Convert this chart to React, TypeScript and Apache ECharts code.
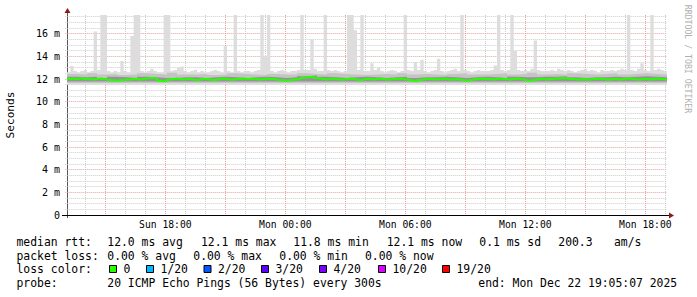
import React, { useEffect, useRef } from 'react';
import * as echarts from 'echarts';

// Time axis: minutes after Sun 13:00. Graph spans Sun 13:05 .. Mon 19:05.
const AXIS_START_MIN = 0;
const AXIS_END_MIN = 1805;
const FIRST_SAMPLE_MIN = 5;
const FINE_STEP_MIN = 10;
const COARSE_STEP_MIN = 30;
const Y_MAX = 17.65;

const xTickMinutes = [300, 660, 1020, 1380, 1740];
const xTickLabels = ['Sun 18:00', 'Mon 00:00', 'Mon 06:00', 'Mon 12:00', 'Mon 18:00'];
const yTickValues = [0, 2, 4, 6, 8, 10, 12, 14, 16];
const yTickLabels = ['0', '2 m', '4 m', '6 m', '8 m', '10 m', '12 m', '14 m', '16 m'];

// median rtt (ms), one value per 10 minutes
const medianRtt = [
  12.0, 12.05, 12.0, 12.05, 12.1, 12.0, 12.0, 11.95, 12.0, 12.05, 12.0, 11.95, 11.9, 11.9, 11.85, 11.9, 11.9, 11.95,
  11.95, 12.0, 12.0, 11.95, 12.0, 12.05, 12.1, 12.1, 12.05, 11.85, 11.8, 11.85, 11.95, 12.0, 12.05, 12.0, 11.95, 12.0,
  12.0, 11.95, 11.9, 11.95, 12.0, 12.0, 11.95, 11.9, 11.95, 12.0, 12.05, 12.0, 11.95, 11.95, 12.0, 12.0, 12.05, 12.0,
  12.0, 12.05, 12.0, 11.95, 12.0, 12.05, 12.0, 12.0, 11.95, 11.9, 11.9, 11.85, 11.9, 11.95, 11.95, 12.0, 12.1, 12.15,
  12.15, 12.2, 12.1, 12.05, 12.0, 11.95, 12.0, 12.05, 12.0, 11.95, 11.95, 12.0, 12.05, 12.0, 11.95, 11.9, 11.95, 12.0,
  12.0, 11.95, 12.0, 12.05, 12.0, 11.95, 11.95, 12.0, 12.0, 12.05, 12.0, 11.95, 11.9, 11.85, 11.8, 11.9, 11.95, 12.0,
  12.0, 12.0, 11.95, 12.0, 12.05, 12.0, 11.95, 11.95, 12.0, 11.95, 11.9, 11.85, 11.9, 11.95, 12.0, 12.0, 12.05, 12.0,
  12.0, 11.95, 12.0, 12.05, 12.0, 12.0, 11.95, 12.0, 12.05, 12.0, 11.95, 11.9, 11.85, 11.9, 11.95, 12.0, 12.0, 11.95,
  12.0, 12.0, 12.05, 12.05, 12.1, 12.05, 12.0, 12.0, 11.95, 11.95, 12.0, 11.95, 11.95, 12.0, 12.0, 12.05, 12.0, 11.95,
  11.95, 12.0, 12.0, 11.95, 12.0, 12.05, 12.05, 12.0, 11.95, 11.95, 12.0, 12.0, 11.95, 12.0, 12.05, 12.0, 12.0, 11.95,
];

// highest ping of each 10-minute step (light smoke top, ms)
const smokeHigh = [
  12.6, 13.15, 12.7, 12.6, 12.7, 12.8, 12.6, 12.7, 16.2, 12.8, 17.7, 17.7, 12.7, 12.6, 12.7, 12.6, 13.6, 12.7,
  12.6, 15.8, 17.7, 17.7, 12.7, 12.6, 12.7, 12.9, 12.7, 12.6, 12.6, 17.7, 17.7, 12.7, 12.8, 13.0, 13.1, 12.7,
  12.6, 12.7, 12.8, 12.6, 12.7, 12.6, 12.6, 12.7, 12.8, 12.7, 12.6, 14.9, 12.7, 12.6, 17.7, 12.7, 12.6, 12.7,
  12.7, 12.6, 12.7, 12.8, 17.7, 14.0, 17.7, 12.7, 12.6, 12.7, 12.8, 12.7, 12.6, 12.7, 12.7, 12.8, 17.7, 12.8,
  12.8, 15.5, 12.9, 12.7, 12.7, 17.7, 12.8, 12.7, 12.8, 12.7, 12.6, 12.7, 17.7, 17.7, 16.3, 12.8, 17.7, 12.7,
  12.7, 13.4, 12.8, 13.0, 12.7, 12.6, 12.7, 12.8, 12.7, 12.6, 12.7, 17.7, 12.8, 12.7, 13.5, 12.8, 13.7, 12.7,
  12.6, 12.7, 12.8, 13.8, 12.7, 12.6, 12.7, 12.8, 12.9, 12.7, 17.7, 12.8, 12.7, 12.6, 12.7, 12.8, 12.7, 12.7,
  12.7, 12.8, 13.2, 17.7, 12.8, 12.7, 12.8, 17.7, 14.5, 12.8, 12.7, 12.8, 12.7, 12.9, 15.4, 12.8, 12.7, 12.7,
  12.7, 12.8, 12.7, 12.9, 12.8, 12.7, 12.8, 12.7, 12.6, 12.7, 12.8, 12.9, 12.7, 12.8, 12.7, 12.6, 12.8, 12.7,
  12.7, 12.8, 12.7, 12.8, 12.9, 12.8, 17.7, 12.8, 12.7, 12.9, 13.4, 12.8, 12.7, 17.7, 12.8, 12.9, 12.8, 12.7,
];

// inner smoke tops, one value per 30 minutes (ms)
const smokeMid = [
  12.45, 12.4, 12.5, 12.4, 12.45, 12.35, 12.4, 12.5, 12.45, 12.4, 12.55, 12.4,
  12.4, 12.45, 12.35, 12.4, 12.5, 12.45, 12.4, 12.35, 12.45, 12.4, 12.4, 12.5,
  12.45, 12.4, 12.5, 12.45, 12.4, 12.35, 12.4, 12.45, 12.4, 12.5, 12.4, 12.45,
  12.4, 12.35, 12.45, 12.5, 12.4, 12.4, 12.45, 12.5, 12.4, 12.45, 12.55, 12.4,
  12.45, 12.4, 12.5, 12.45, 12.4, 12.45, 12.5, 12.4, 12.45, 12.5, 12.45, 12.4,
];
const smokeDark = [
  12.2, 12.15, 12.2, 12.1, 12.2, 12.15, 12.1, 12.2, 12.15, 12.1, 12.1, 12.15,
  12.15, 12.1, 12.15, 12.2, 12.15, 12.1, 12.15, 12.2, 12.15, 12.1, 12.15, 12.25,
  12.3, 12.2, 12.15, 12.1, 12.15, 12.2, 12.15, 12.1, 12.15, 12.2, 12.1, 12.15,
  12.15, 12.2, 12.15, 12.1, 12.15, 12.2, 12.15, 12.1, 12.2, 12.15, 12.15, 12.2,
  12.2, 12.25, 12.15, 12.1, 12.15, 12.15, 12.2, 12.15, 12.2, 12.25, 12.2, 12.15,
];
const SMOKE_LIGHT_BOTTOM = 11.5;
const SMOKE_MID_BOTTOM = 11.65;
const SMOKE_DARK_BOTTOM = 11.78;

const lossLabels = ['0', '1/20', '2/20', '3/20', '4/20', '10/20', '19/20'];
const lossColors = ['#26ff00', '#00b8ff', '#0059ff', '#5e00ff', '#7e00ff', '#dd00ff', '#ff0000'];
const lossBoxX = [109, 146, 203.5, 261, 319, 378, 442];

const statsRtt = [
  ['median rtt:', 16.5], ['12.0 ms avg', 107.3], ['12.1 ms max', 201], ['11.8 ms min', 293.3],
  ['12.1 ms now', 386.7], ['0.1 ms sd', 479.3], ['200.3', 558.3], ['am/s', 614],
];
const statsLoss = [
  ['packet loss:', 16.5], ['0.00 % avg', 107.3], ['0.00 % max', 193.3], ['0.00 % min', 279.3], ['0.00 % now', 365],
];
const probeLine = [
  ['probe:', 16.5], ['20 ICMP Echo Pings (56 Bytes) every 300s', 107.3], ['end: Mon Dec 22 19:05:07 2025', 478.3],
];

const MONO = '"DejaVu Sans Mono", monospace';

function stepData(vals: number[], stepMin: number) {
  const d = vals.map((v, i) => [FIRST_SAMPLE_MIN + i * stepMin, v]);
  d.push([AXIS_END_MIN, vals[vals.length - 1]]);
  return d;
}

export default function App() {
  const ref = useRef<HTMLDivElement>(null);
  useEffect(() => {
    if (!ref.current) return;
    const chart = echarts.init(ref.current, null, { renderer: 'svg' });
    const legendFont = `11.4px ${MONO}`;
    const texts: any[] = [];
    const addRow = (row: any[], y: number) => {
      row.forEach(([t, x]) => texts.push({
        type: 'text', x, y, style: { text: t, font: legendFont, fill: '#000', textAlign: 'left', textVerticalAlign: 'middle' },
      }));
    };
    addRow(statsRtt, 241.5);
    addRow(statsLoss, 255.5);
    addRow([['loss color:', 16.5]], 269.2);
    addRow(probeLine, 283);
    lossLabels.forEach((lab, i) => {
      texts.push({ type: 'rect', shape: { x: lossBoxX[i] + 0.5, y: 265.5, width: 7, height: 7 }, style: { fill: lossColors[i], stroke: '#000', lineWidth: 1 } });
      texts.push({ type: 'text', x: lossBoxX[i] + 14.5, y: 269.2, style: { text: lab, font: legendFont, fill: '#000', textAlign: 'left', textVerticalAlign: 'middle' } });
    });

    const option: any = {
      animation: false,
      backgroundColor: '#ffffff',
      textStyle: { fontFamily: MONO },
      grid: { left: 65.333, top: 15, width: 601.667, height: 200, containLabel: false },
      xAxis: {
        type: 'value', min: AXIS_START_MIN, max: AXIS_END_MIN, interval: 60,
        axisLine: { show: false }, axisTick: { show: false },
        axisLabel: {
          margin: 4, color: '#000000', fontFamily: MONO, fontSize: 9.7,
          formatter: (v: number) => { const k = xTickMinutes.indexOf(v); return k >= 0 ? xTickLabels[k] : ''; },
        },
        splitLine: {
          show: true, showMinLine: false, showMaxLine: false,
          lineStyle: { color: ['#cccccc', '#e6a0a0', '#cccccc'], type: [1, 1], width: 1 },
        },
      },
      yAxis: [
        {
          type: 'value', min: 0, max: Y_MAX, interval: 2,
          axisLine: { show: false }, axisTick: { show: false },
          axisLabel: {
            margin: 5.333, color: '#000000', fontFamily: MONO, fontSize: 10, showMaxLabel: false,
            formatter: (v: number) => { const k = yTickValues.indexOf(v); return k >= 0 ? yTickLabels[k] : ''; },
          },
          splitLine: { show: true, showMinLine: false, showMaxLine: false, lineStyle: { color: '#e6a0a0', type: [1, 1], width: 1 } },
        },
        {
          type: 'value', min: 0, max: Y_MAX, interval: 0.5,
          axisLine: { show: false }, axisTick: { show: false }, axisLabel: { show: false },
          splitLine: {
            show: true, showMinLine: false, showMaxLine: false,
            lineStyle: { color: ['#cccccc', '#cccccc', '#cccccc', 'rgba(0,0,0,0)'], type: [1, 1], width: 1 },
          },
        },
      ],
      series: [
        {
          type: 'line', step: 'end', data: stepData(smokeHigh, FINE_STEP_MIN), symbol: 'none', silent: true,
          lineStyle: { width: 0 }, areaStyle: { color: '#dddddd', opacity: 1, origin: SMOKE_LIGHT_BOTTOM },
        },
        {
          type: 'line', step: 'end', data: stepData(smokeMid, COARSE_STEP_MIN), symbol: 'none', silent: true,
          lineStyle: { width: 0 }, areaStyle: { color: '#c4c4c4', opacity: 1, origin: SMOKE_MID_BOTTOM },
        },
        {
          type: 'line', step: 'end', data: stepData(smokeDark, COARSE_STEP_MIN), symbol: 'none', silent: true,
          lineStyle: { width: 0 }, areaStyle: { color: '#959595', opacity: 1, origin: SMOKE_DARK_BOTTOM },
        },
        {
          type: 'line', step: 'end', data: stepData(medianRtt, FINE_STEP_MIN), symbol: 'none', silent: true,
          lineStyle: { width: 2, color: '#26ff00' },
        },
      ],
      graphic: [
        { type: 'line', shape: { x1: 67.5, y1: 218, x2: 67.5, y2: 12 }, style: { stroke: '#555555', lineWidth: 1 } },
        { type: 'line', shape: { x1: 62, y1: 215.5, x2: 669, y2: 215.5 }, style: { stroke: '#000000', lineWidth: 1 } },
        { type: 'polygon', shape: { points: [[64.5, 13], [70.5, 13], [67.5, 8]] }, style: { fill: '#8b1a1a' } },
        { type: 'polygon', shape: { points: [[669, 212.5], [669, 218.5], [674, 215.5]] }, style: { fill: '#8b1a1a' } },
        {
          type: 'text', x: 10.5, y: 115, rotation: Math.PI / 2,
          style: { text: 'Seconds', font: `11.1px ${MONO}`, fill: '#000', textAlign: 'center', textVerticalAlign: 'middle' },
        },
        {
          type: 'text', x: 688, y: 59, rotation: -Math.PI / 2,
          style: { text: 'RRDTOOL / TOBI OETIKER', font: `8.2px ${MONO}`, fill: '#b0b0b0', textAlign: 'center', textVerticalAlign: 'middle' },
        },
        ...texts,
      ],
    };
    chart.setOption(option);
    return () => chart.dispose();
  }, []);
  return <div ref={ref} style={{ position: 'fixed', left: 0, top: 0, width: 697, height: 297 }} />;
}
